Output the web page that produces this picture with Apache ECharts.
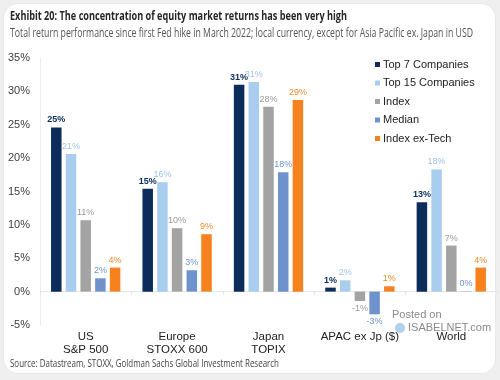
<!DOCTYPE html>
<html><head><meta charset="utf-8">
<script src="https://cdn.jsdelivr.net/npm/echarts@6/dist/echarts.min.js"></script>
<style>
html,body{margin:0;padding:0;background:#efefef;}
#card{position:absolute;left:4px;top:4px;width:491px;height:369px;background:#fff;border-radius:14px;box-shadow:0 0 2px rgba(0,0,0,0.08);}
#c{position:absolute;left:0;top:0;width:500px;height:380px;}
</style></head>
<body>
<div id="card"></div>
<div id="c"></div>
<script>
const categories = ['US\nS&P 500', 'Europe\nSTOXX 600', 'Japan\nTOPIX', 'APAC ex Jp ($)', 'World'];
const seriesNames = ['Top 7 Companies', 'Top 15 Companies', 'Index', 'Median', 'Index ex-Tech'];
const top7 = [24.6, 15.4, 31.0, 0.6, 13.4];
const top15 = [20.6, 16.4, 31.4, 1.7, 18.3];
const indexVals = [10.7, 9.5, 27.7, -1.4, 6.9];
const median = [2.0, 3.2, 17.9, -3.4, 0.05];
const exTech = [3.6, 8.6, 28.7, 0.8, 3.6];
const yTicks = [-5, 0, 5, 10, 15, 20, 25, 30, 35];
const titleText = 'Exhibit 20: The concentration of equity market returns has been very high';
const subtitleText = 'Total return performance since first Fed hike in March 2022; local currency, except for Asia Pacific ex. Japan in USD';
const sourceText = 'Source: Datastream, STOXX, Goldman Sachs Global Investment Research';

const colors = ['#0c2c5c', '#a8cdef', '#a3a3a3', '#6e93cc', '#f5821f'];
const labelColors = ['#0c2c5c', '#9ec4ea', '#9a9a9a', '#6e93cc', '#f08a2a'];
const allData = [top7, top15, indexVals, median, exTech];

const mctx = document.createElement('canvas').getContext('2d');
function fitScale(text, font, target) {
  mctx.font = font;
  return target / mctx.measureText(text).width;
}
const titleFont = 'bold 13px "Open Sans"';
const subFont = '12px "Open Sans"';
const srcFont = '11.5px "Open Sans"';

const chart = echarts.init(document.getElementById('c'), null, {renderer: 'canvas'});
const series = allData.map((arr, i) => ({
  name: seriesNames[i],
  type: 'bar',
  barWidth: 10.5,
  barGap: '40%',
  itemStyle: {color: colors[i]},
  data: arr.map(v => ({
    value: v,
    label: {position: v < 0 ? 'bottom' : 'top'}
  })),
  label: {
    show: true,
    distance: 3,
    fontFamily: 'Arial, Liberation Sans',
    fontSize: 9,
    fontWeight: i === 0 ? 'bold' : 'normal',
    color: labelColors[i],
    formatter: p => Math.round(p.value) + '%'
  }
}));

chart.setOption({
  animation: false,
  legend: {
    orient: 'vertical', left: 370, top: 54, itemWidth: 5, itemHeight: 5, itemGap: 7.5,
    icon: 'rect',
    textStyle: {fontFamily: 'Arial, Liberation Sans', fontSize: 11, color: '#222', padding: [0,0,0,-2]},
    data: seriesNames
  },
  grid: {left: 40, right: 3, top: 58, bottom: 55, containLabel: false, outerBoundsMode: 'none'},
  xAxis: {
    type: 'category', data: categories,
    axisLine: {onZero: true, lineStyle: {color: '#e6e6e6'}},
    axisTick: {show: true, length: 3, lineStyle: {color: '#e6e6e6'}},
    axisLabel: {interval: 0, hideOverlap: false, margin: 5, fontFamily: 'Arial, Liberation Sans', fontSize: 11.5, color: '#222', lineHeight: 13}
  },
  yAxis: {
    type: 'value', min: -5, max: 35, interval: 5,
    axisLine: {show: true, lineStyle: {color: '#ececec'}},
    axisTick: {show: false},
    splitLine: {show: false},
    axisLabel: {margin: 10, fontFamily: 'Arial, Liberation Sans', fontSize: 11, color: '#404040',
      formatter: v => yTicks.includes(v) ? v + '%' : ''}
  },
  graphic: [
    {type: 'text', x: 10, y: 10, scaleX: fitScale(titleText, titleFont, 337),
     style: {text: titleText, font: titleFont, fill: '#262626'}},
    {type: 'text', x: 10, y: 28, scaleX: fitScale(subtitleText, subFont, 463),
     style: {text: subtitleText, font: subFont, fill: '#555'}},
    {type: 'text', x: 10, y: 358, scaleX: fitScale(sourceText, srcFont, 269),
     style: {text: sourceText, font: srcFont, fill: '#444'}},
    {type: 'text', left: 392, top: 309, style: {text: 'Posted on', fontFamily: 'Arial, Liberation Sans', fontSize: 11, fill: '#8a8a8a'}},
    {type: 'circle', shape: {cx: 400, cy: 328, r: 5}, style: {fill: '#9fc3e0', opacity: 0.8}},
    {type: 'text', left: 408, top: 322, style: {text: 'ISABELNET.com', fontFamily: 'Arial, Liberation Sans', fontSize: 11, fill: '#8a8a8a'}}
  ],
  series: series
});
</script>
</body></html>
